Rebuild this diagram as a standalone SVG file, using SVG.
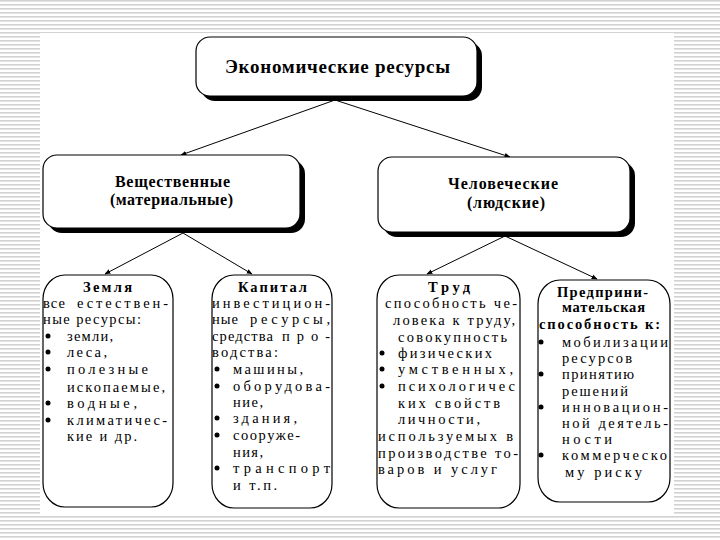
<svg xmlns="http://www.w3.org/2000/svg" width="720" height="540" viewBox="0 0 720 540">
<defs>
<pattern id="stripes" x="0" y="0" width="8" height="4" patternUnits="userSpaceOnUse">
<rect x="0" y="0" width="8" height="4" fill="#ffffff"/>
<rect x="0" y="0" width="8" height="1.6" fill="#d2d2d2"/>
</pattern>
<marker id="ah" viewBox="0 0 10 10" refX="9" refY="5" markerWidth="6" markerHeight="6" orient="auto" markerUnits="userSpaceOnUse">
<path d="M0,1 L10,5 L0,9 z" fill="#000"/>
</marker>
<style>
.box{fill:#fff;stroke:#000;stroke-width:1.2}
.shadow{fill:#000}
.h{font-family:"Liberation Serif","DejaVu Serif",serif;font-weight:bold;font-size:16px;fill:#000}
.hs{font-family:"Liberation Serif","DejaVu Serif",serif;font-weight:bold;font-size:14.5px;fill:#000}
.ht{font-family:"Liberation Serif","DejaVu Serif",serif;font-weight:bold;font-size:19px;fill:#000}
.t{font-family:"Liberation Serif","DejaVu Serif",serif;font-size:14.5px;fill:#000}
.b{fill:#000}
.con{stroke:#000;stroke-width:1;fill:none}
</style>
</defs>
<rect x="0" y="0" width="720" height="540" fill="url(#stripes)"/>
<rect x="40" y="33" width="634" height="482" fill="#fff"/>

<g id="connectors">
<line class="con" x1="335" y1="100" x2="181" y2="155" marker-end="url(#ah)"/>
<line class="con" x1="335" y1="100" x2="510" y2="157" marker-end="url(#ah)"/>
<line class="con" x1="183" y1="233" x2="105" y2="274" marker-end="url(#ah)"/>
<line class="con" x1="183" y1="233" x2="252" y2="274" marker-end="url(#ah)"/>
<line class="con" x1="505" y1="236" x2="427" y2="274" marker-end="url(#ah)"/>
<line class="con" x1="505" y1="236" x2="597" y2="279" marker-end="url(#ah)"/>
</g>

<g id="node-econ">
<rect class="shadow" x="201" y="42" width="281" height="59" rx="14"/>
<rect class="box" x="196" y="37" width="281" height="59" rx="14"/>
<text class="ht" x="225" y="73" textLength="225" lengthAdjust="spacing">Экономические ресурсы</text>
</g>

<g id="node-material">
<rect class="shadow" x="48" y="160" width="257" height="73" rx="14"/>
<rect class="box" x="43" y="155" width="257" height="73" rx="14"/>
<text class="h" x="115" y="187" textLength="115" lengthAdjust="spacing">Вещественные</text>
<text class="h" x="110" y="205" textLength="123" lengthAdjust="spacing">(материальные)</text>
</g>

<g id="node-human">
<rect class="shadow" x="383" y="162" width="252" height="75" rx="14"/>
<rect class="box" x="378" y="157" width="252" height="75" rx="14"/>
<text class="h" x="448" y="189" textLength="110" lengthAdjust="spacing">Человеческие</text>
<text class="h" x="467" y="208" textLength="78" lengthAdjust="spacing">(людские)</text>
</g>

<g id="node-land">
<rect class="box" x="43" y="275" width="130" height="232" rx="22" ry="24"/>
<text class="hs" x="83" y="292" textLength="49" lengthAdjust="spacing">Земля</text>
<text class="t" x="43" y="308" textLength="22" lengthAdjust="spacing">все</text>
<text class="t" x="77" y="308" textLength="91" lengthAdjust="spacing">естествен-</text>
<text class="t" x="43" y="324" textLength="98" lengthAdjust="spacing">ные ресурсы:</text>
<circle class="b" cx="48" cy="336" r="2.5"/>
<text class="t" x="67" y="341" textLength="46" lengthAdjust="spacing">земли,</text>
<circle class="b" cx="48" cy="352" r="2.5"/>
<text class="t" x="67" y="357" textLength="40" lengthAdjust="spacing">леса,</text>
<circle class="b" cx="48" cy="369" r="2.5"/>
<text class="t" x="67" y="374" textLength="81" lengthAdjust="spacing">полезные</text>
<text class="t" x="67" y="392" textLength="98" lengthAdjust="spacing">ископаемые,</text>
<circle class="b" cx="48" cy="403" r="2.5"/>
<text class="t" x="67" y="408" textLength="70" lengthAdjust="spacing">водные,</text>
<circle class="b" cx="48" cy="420" r="2.5"/>
<text class="t" x="67" y="425" textLength="100" lengthAdjust="spacing">климатичес-</text>
<text class="t" x="67" y="441" textLength="70" lengthAdjust="spacing">кие и др.</text>
</g>

<g id="node-capital">
<rect class="box" x="212" y="275" width="120" height="233" rx="22" ry="24"/>
<text class="hs" x="238" y="292" textLength="69" lengthAdjust="spacing">Капитал</text>
<text class="t" x="212" y="308" textLength="118" lengthAdjust="spacing">инвестицион-</text>
<text class="t" x="212" y="324" textLength="26" lengthAdjust="spacing">ные</text>
<text class="t" x="250" y="324" textLength="80" lengthAdjust="spacing">ресурсы,</text>
<text class="t" x="212" y="341" textLength="61" lengthAdjust="spacing">средства</text>
<text class="t" x="282" y="341" textLength="48" lengthAdjust="spacing">про-</text>
<text class="t" x="212" y="357" textLength="66" lengthAdjust="spacing">водства:</text>
<circle class="b" cx="217" cy="369" r="2.5"/>
<text class="t" x="233" y="374" textLength="70" lengthAdjust="spacing">машины,</text>
<circle class="b" cx="217" cy="386" r="2.5"/>
<text class="t" x="233" y="391" textLength="97" lengthAdjust="spacing">оборудова-</text>
<text class="t" x="233" y="407" textLength="30" lengthAdjust="spacing">ние,</text>
<circle class="b" cx="217" cy="418" r="2.5"/>
<text class="t" x="233" y="423" textLength="64" lengthAdjust="spacing">здания,</text>
<circle class="b" cx="217" cy="435" r="2.5"/>
<text class="t" x="233" y="440" textLength="67" lengthAdjust="spacing">сооруже-</text>
<text class="t" x="233" y="457" textLength="30" lengthAdjust="spacing">ния,</text>
<circle class="b" cx="217" cy="468" r="2.5"/>
<text class="t" x="233" y="473" textLength="97" lengthAdjust="spacing">транспорт</text>
<text class="t" x="233" y="490" textLength="44" lengthAdjust="spacing">и т.п.</text>
</g>

<g id="node-labour">
<rect class="box" x="377" y="275" width="143" height="233" rx="22" ry="24"/>
<text class="hs" x="428" y="292" textLength="42" lengthAdjust="spacing">Труд</text>
<text class="t" x="385" y="308" textLength="132" lengthAdjust="spacing">способность че-</text>
<text class="t" x="393" y="325" textLength="122" lengthAdjust="spacing">ловека к труду,</text>
<text class="t" x="398" y="342" textLength="109" lengthAdjust="spacing">совокупность</text>
<circle class="b" cx="382" cy="353" r="2.5"/>
<text class="t" x="398" y="358" textLength="94" lengthAdjust="spacing">физических</text>
<circle class="b" cx="382" cy="369" r="2.5"/>
<text class="t" x="398" y="374" textLength="115" lengthAdjust="spacing">умственных,</text>
<circle class="b" cx="382" cy="386" r="2.5"/>
<text class="t" x="398" y="391" textLength="117" lengthAdjust="spacing">психологичес</text>
<text class="t" x="398" y="408" textLength="102" lengthAdjust="spacing">ких свойств</text>
<text class="t" x="398" y="424" textLength="82" lengthAdjust="spacing">личности,</text>
<text class="t" x="378" y="441" textLength="135" lengthAdjust="spacing">используемых в</text>
<text class="t" x="378" y="458" textLength="140" lengthAdjust="spacing">производстве то-</text>
<text class="t" x="378" y="474" textLength="119" lengthAdjust="spacing">варов и услуг</text>
</g>

<g id="node-entrepreneur">
<rect class="box" x="538" y="280" width="132" height="222" rx="22" ry="24"/>
<text class="hs" x="557" y="297" textLength="91" lengthAdjust="spacing">Предприни-</text>
<text class="hs" x="562" y="312" textLength="83" lengthAdjust="spacing">мательская</text>
<text class="hs" x="539" y="329" textLength="121" lengthAdjust="spacing">способность к:</text>
<circle class="b" cx="541" cy="342" r="2.5"/>
<text class="t" x="562" y="347" textLength="106" lengthAdjust="spacing">мобилизации</text>
<text class="t" x="562" y="363" textLength="70" lengthAdjust="spacing">ресурсов</text>
<circle class="b" cx="541" cy="374" r="2.5"/>
<text class="t" x="562" y="379" textLength="72" lengthAdjust="spacing">принятию</text>
<text class="t" x="562" y="396" textLength="66" lengthAdjust="spacing">решений</text>
<circle class="b" cx="541" cy="407" r="2.5"/>
<text class="t" x="562" y="412" textLength="106" lengthAdjust="spacing">инновацион-</text>
<text class="t" x="562" y="428" textLength="106" lengthAdjust="spacing">ной деятель-</text>
<text class="t" x="562" y="444" textLength="50" lengthAdjust="spacing">ности</text>
<circle class="b" cx="541" cy="455" r="2.5"/>
<text class="t" x="562" y="460" textLength="105" lengthAdjust="spacing">коммерческо</text>
<text class="t" x="565" y="477" textLength="77" lengthAdjust="spacing">му риску</text>
</g>
</svg>
